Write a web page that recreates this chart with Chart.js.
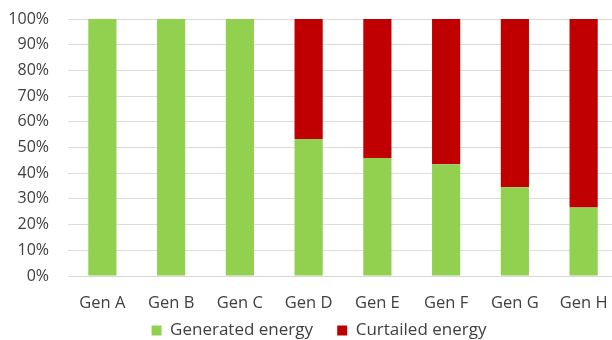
<!DOCTYPE html>
<html>
<head>
<meta charset="utf-8">
<script src="https://cdn.jsdelivr.net/npm/chart.js@4/dist/chart.umd.min.js"></script>
<style>
  html, body { margin: 0; padding: 0; background: #fff; overflow: hidden; }
  #wrap { width: 620px; height: 340px; }
</style>
</head>
<body>
<div id="wrap"><canvas id="myChart" width="620" height="340"></canvas></div>
<script>
let categories = ["Gen A", "Gen B", "Gen C", "Gen D", "Gen E", "Gen F", "Gen G", "Gen H"];
let generated = [100, 100, 100, 53.3, 45.9, 43.5, 34.5, 26.7];
let curtailed = [0, 0, 0, 46.7, 54.1, 56.5, 65.5, 73.3];
let yTicks = [0, 10, 20, 30, 40, 50, 60, 70, 80, 90, 100];

let fontFam = "'Open Sans', 'Noto Sans', sans-serif";

// nudge the legend a little to the right, like the original
let legendShift = {
    id: "legendShift",
    afterLayout: function(chart){
        chart.legend.left += 10;
        chart.legend.right += 10;
    }
};

let ctx = document.getElementById('myChart').getContext('2d');
let myChart = new Chart(ctx, {
    type: "bar",
    data: {
        labels: categories,
        datasets: [
            { label: "Generated energy", data: generated, backgroundColor: "#92d050" },
            { label: "Curtailed energy", data: curtailed, backgroundColor: "#c00000" }
        ]
    },
    plugins: [legendShift],
    options: {
        responsive: false,
        animation: false,
        devicePixelRatio: 1,
        layout: { padding: { left: 0, right: 2, top: 19, bottom: 0 } },
        datasets: { bar: { categoryPercentage: 1, barPercentage: 0.41 } },
        scales: {
            x: {
                stacked: true,
                grid: { display: false },
                border: { display: true, color: "#d9d9d9" },
                ticks: { color: "#404040", font: { family: fontFam, size: 16.5 }, padding: 9 },
                afterFit: function(scale){ scale.height = 35; }
            },
            y: {
                stacked: true,
                min: 0,
                max: 100,
                afterBuildTicks: function(scale){
                    scale.ticks = yTicks.map(function(v){ return { value: v }; });
                },
                grid: { color: "#dcdcdc", drawTicks: true, tickLength: 18, tickColor: "rgba(0,0,0,0)" },
                border: { display: false },
                ticks: {
                    color: "#404040",
                    font: { family: fontFam, size: 16 },
                    padding: 1,
                    callback: function(v){ return v + "%"; }
                },
                afterFit: function(scale){ scale.width = 68; }
            }
        },
        plugins: {
            legend: {
                position: "bottom",
                maxHeight: 29,
                labels: {
                    color: "#404040",
                    font: { family: fontFam, size: 17 },
                    boxWidth: 10,
                    boxHeight: 10,
                    padding: 11,
                    generateLabels: function(chart){
                        // default items, with extra room after the first one
                        let items = Chart.defaults.plugins.legend.labels.generateLabels(chart);
                        items[0].text = items[0].text + "   ";
                        return items;
                    }
                }
            },
            tooltip: { enabled: false }
        }
    }
});
</script>
</body>
</html>
